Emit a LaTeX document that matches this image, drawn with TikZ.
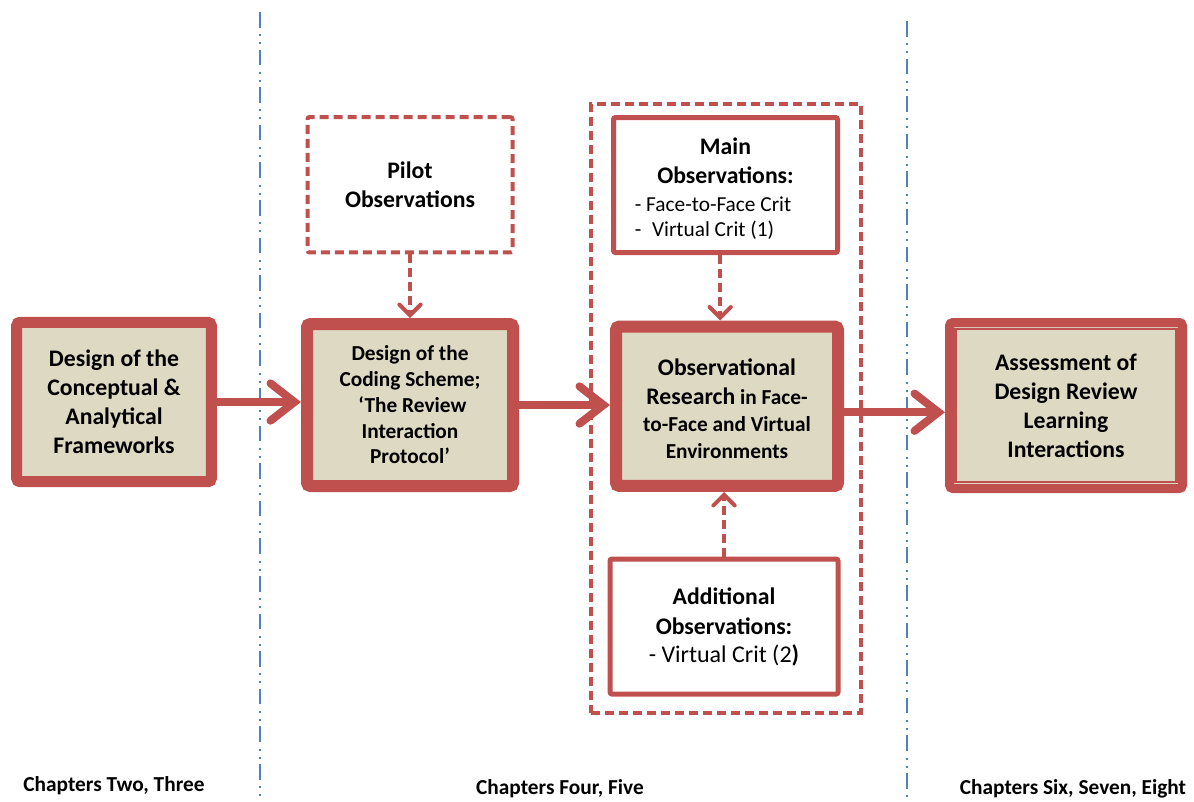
\documentclass[tikz,border=0pt]{standalone}
\usepackage{fontspec}
\setmainfont{Carlito}
\usetikzlibrary{arrows.meta}

\definecolor{boxred}{HTML}{C0504D}
\definecolor{boxfill}{HTML}{DDD9C3}
\definecolor{divblue}{HTML}{4F81BD}

\tikzset{
  stagebox/.style={draw=boxred, fill=boxfill, rounded corners=2.5pt,
    align=center, inner sep=0pt, text=black},
  inputbox/.style={draw=boxred, fill=white, line width=3.75pt,
    rounded corners=1.5pt, align=center, inner sep=0pt},
  pilotbox/.style={draw=boxred, fill=white, line width=3pt,
    dash pattern=on 6.75pt off 3.75pt, rounded corners=1.5pt,
    align=center, inner sep=0pt},
  groupbox/.style={draw=boxred, line width=3pt,
    dash pattern=on 6.75pt off 3.75pt, inner sep=0pt},
  flow/.style={draw=boxred, line width=6pt,
    -{Straight Barb[length=18pt, width=28pt, line cap=round]}},
  feed/.style={draw=boxred, line width=3pt, dash pattern=on 6.75pt off 3.75pt,
    -{Straight Barb[length=8pt, width=16pt, line cap=round]}},
  divider/.style={draw=divblue, line width=1.5pt,
    dash pattern=on 11.7pt off 5pt on 1.5pt off 4.5pt on 1.5pt off 4pt},
  bigtext/.style={font=\fontsize{17.8}{21.75}\selectfont\bfseries},
  midtext/.style={font=\fontsize{16}{19.3}\selectfont\bfseries},
  chapter/.style={font=\fontsize{16}{19}\selectfont\bfseries, inner sep=0pt}
}

\begin{document}
\begin{tikzpicture}[x=0.75pt, y=-0.75pt]
  \useasboundingbox (0,0) rectangle (1194,801);

  % chapter dividers
  \coordinate (d1t) at (260,12);
  \coordinate (d1b) at (260,800);
  \coordinate (d2t) at (907,21);
  \coordinate (d2b) at (907,800);
  \draw[divider] (d1t) -- (d1b);
  \draw[divider] (d2t) -- (d2b);

  % dashed frame around the observation studies
  \node[groupbox, minimum width=202.5pt, minimum height=456.75pt] (group) at (726,408.5) {};

  % main stages
  \node[stagebox, bigtext, line width=8.25pt, minimum width=145.9pt, minimum height=119.6pt]
    (frame) at (114,402) {Design of the\\Conceptual \&\\Analytical\\Frameworks};

  \node[stagebox, midtext, line width=9pt, minimum width=154.5pt, minimum height=121.5pt]
    (coding) at (410,405) {Design of the\\Coding Scheme;\\\ ‘The Review\\Interaction\\Protocol’};

  \node[stagebox, font=\fontsize{16}{20.25}\selectfont\bfseries, line width=9pt,
    minimum width=166.5pt, minimum height=119.6pt]
    (research) at (727,406.25)
    {\rule{0pt}{15.5pt}{\fontsize{17.8}{21.75}\selectfont Observational}\\[1.5pt]
     {\fontsize{17.8}{21.75}\selectfont Research} in Face-\\
     to-Face and Virtual\\Environments};

  \node[stagebox, bigtext, line width=6.75pt, minimum width=174.75pt, minimum height=124.5pt]
    (assess) at (1066,405.5) {Assessment of\\Design Review\\Learning\\Interactions};
  \draw[boxred, line width=2pt]
    ([shift={(10.5,11)}]assess.north west) rectangle ([shift={(-10.5,-11)}]assess.south east);

  % observation inputs
  \node[pilotbox, bigtext, minimum width=153.75pt, minimum height=101.6pt]
    (pilot) at (410,184.75) {Pilot\\Observations};

  \node[inputbox, bigtext, minimum width=168pt, minimum height=101.25pt]
    (main) at (725.5,185)
    {\rule{0pt}{18.5pt}Main\\Observations:\\[-0.75pt]
     {\fontsize{16}{19}\selectfont\mdseries\makebox[136pt][l]{- Face-to-Face Crit}}\\[-3pt]
     {\fontsize{16}{19}\selectfont\mdseries\makebox[136pt][l]{-\enspace Virtual Crit (1)}}};

  \node[inputbox, bigtext, minimum width=171pt, minimum height=101.25pt]
    (extra) at (724,626.5)
    {Additional\\[0.75pt]Observations:\\[-0.75pt]
     {\fontsize{18}{21}\selectfont\mdseries - Virtual Crit (2\textbf{)}}};

  % flow between stages
  \coordinate (f1) at (frame.east);
  \coordinate (f2) at (f1 -| coding.west);
  \draw[flow] (f1) -- (f2);

  \coordinate (c1) at (coding.east);
  \coordinate (c2) at (c1 -| research.west);
  \draw[flow] (c1) -- (c2);

  \coordinate (r1) at ([yshift=-4.5pt]research.east);
  \coordinate (r2) at (r1 -| assess.west);
  \draw[flow] (r1) -- (r2);

  % inputs feeding the stages
  \coordinate (p1) at (pilot.south);
  \coordinate (p2) at (p1 |- coding.north);
  \draw[feed] (p1) -- (p2);

  \coordinate (m1) at ([xshift=-4pt]main.south);
  \coordinate (m2) at (m1 |- research.north);
  \draw[feed] (m1) -- (m2);

  \coordinate (a1) at (extra.north);
  \coordinate (a2) at (a1 |- research.south);
  \draw[feed] (a1) -- (a2);

  % chapter labels
  \node[chapter] (ch1) at (114,786) {Chapters Two, Three};
  \node[chapter] (ch2) at (560,789) {Chapters Four, Five};
  \node[chapter] (ch3) at (1073,789) {Chapters Six, Seven, Eight};
\end{tikzpicture}
\end{document}
